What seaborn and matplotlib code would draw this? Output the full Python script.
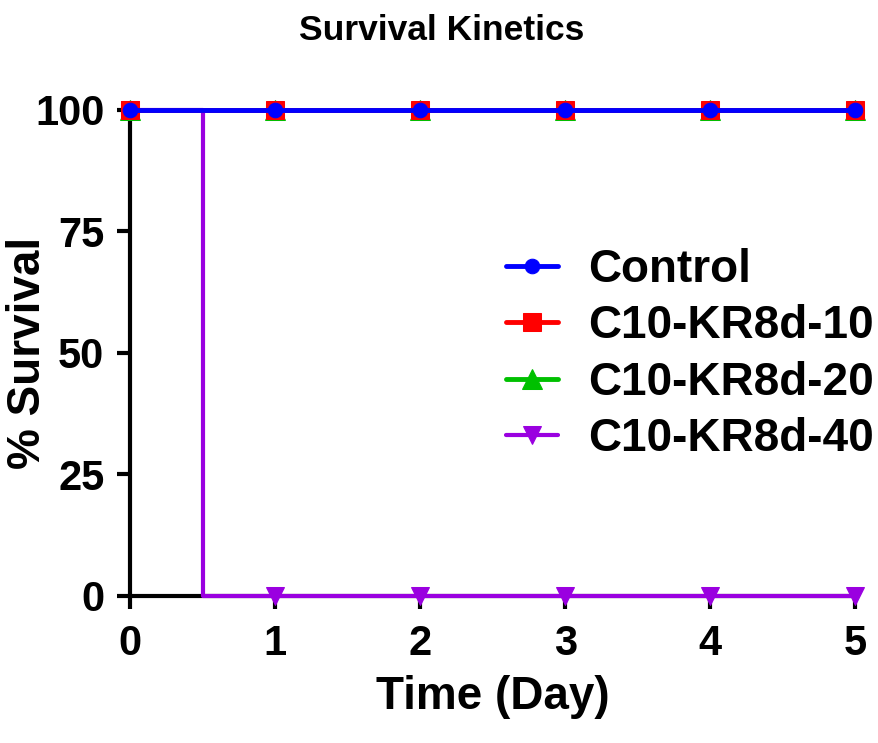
import numpy as np
import pandas as pd
import matplotlib
matplotlib.use("Agg")
import matplotlib.pyplot as plt
import seaborn as sns

# data
days = [0, 1, 2, 3, 4, 5]
control = [100, 100, 100, 100, 100, 100]
kr8d_10 = [100, 100, 100, 100, 100, 100]
kr8d_20 = [100, 100, 100, 100, 100, 100]
# group 40 drops at day 0.5
days_40 = [0, 0.5, 1, 2, 3, 4, 5]
kr8d_40 = [100, 0, 0, 0, 0, 0, 0]
marks_40 = [0, 2, 3, 4, 5, 6]

sns.set_style("ticks")
plt.rcParams['font.family'] = ['Liberation Sans', 'DejaVu Sans']
plt.rcParams['font.weight'] = 'bold'
plt.rcParams['text.color'] = 'black'
plt.rcParams['axes.labelcolor'] = 'black'
plt.rcParams['xtick.color'] = 'black'
plt.rcParams['ytick.color'] = 'black'

fig = plt.figure(figsize=(8.79, 7.43), dpi=100)
ax = fig.add_axes([0.148, 0.198, 0.825, 0.654])

series = [
    ("C10-KR8d-40", days_40, kr8d_40, "#9A00E0", "v", 13, 3.0, marks_40, 3),
    ("C10-KR8d-20", days, kr8d_20, "#00C000", "^", 14, 3.5, None, 4),
    ("C10-KR8d-10", days, kr8d_10, "#FF0000", "s", 13, 3.5, None, 5),
    ("Control", days, control, "#0000FF", "o", 10.5, 3.5, None, 6),
]
for name, x, y, col, mk, ms, lw, every, z in series:
    sns.lineplot(x=x, y=y, ax=ax, color=col, marker=mk, markersize=ms,
                 markeredgecolor=col, linewidth=lw, drawstyle="steps-post",
                 markevery=every, label=name, zorder=z, clip_on=False)

ax.set_xlim(0, 5)
ax.set_ylim(0, 100)
ax.set_xticks(days)
ax.set_yticks([0, 25, 50, 75, 100])
sns.despine(ax=ax)
for side in ["left", "bottom"]:
    ax.spines[side].set_linewidth(3)
    ax.spines[side].set_color("black")
ax.tick_params(axis="both", width=3, length=9.5, labelsize=30, pad=9, color="black")
ax.tick_params(axis="x", pad=11)

ax.set_xlabel("Time (Day)", fontsize=33, fontweight="bold")
ax.xaxis.set_label_coords(0.5, -0.163)
ax.set_ylabel("% Survival", fontsize=33, fontweight="bold")
ax.yaxis.set_label_coords(-0.11, 0.5)
fig.text(0.503, 1 - 30 / 743, "Survival Kinetics", ha="center", va="center",
         fontsize=25.5, fontweight="bold")

h, l = ax.get_legend_handles_labels()
order = [3, 2, 1, 0]
ax.legend([h[i] for i in order], [l[i] for i in order], loc="center left",
          bbox_to_anchor=(0.461, 0.497), frameon=False, fontsize=33,
          handlelength=1.14, handletextpad=0.66, labelspacing=0.27)

fig.savefig("out.png", dpi=100)
